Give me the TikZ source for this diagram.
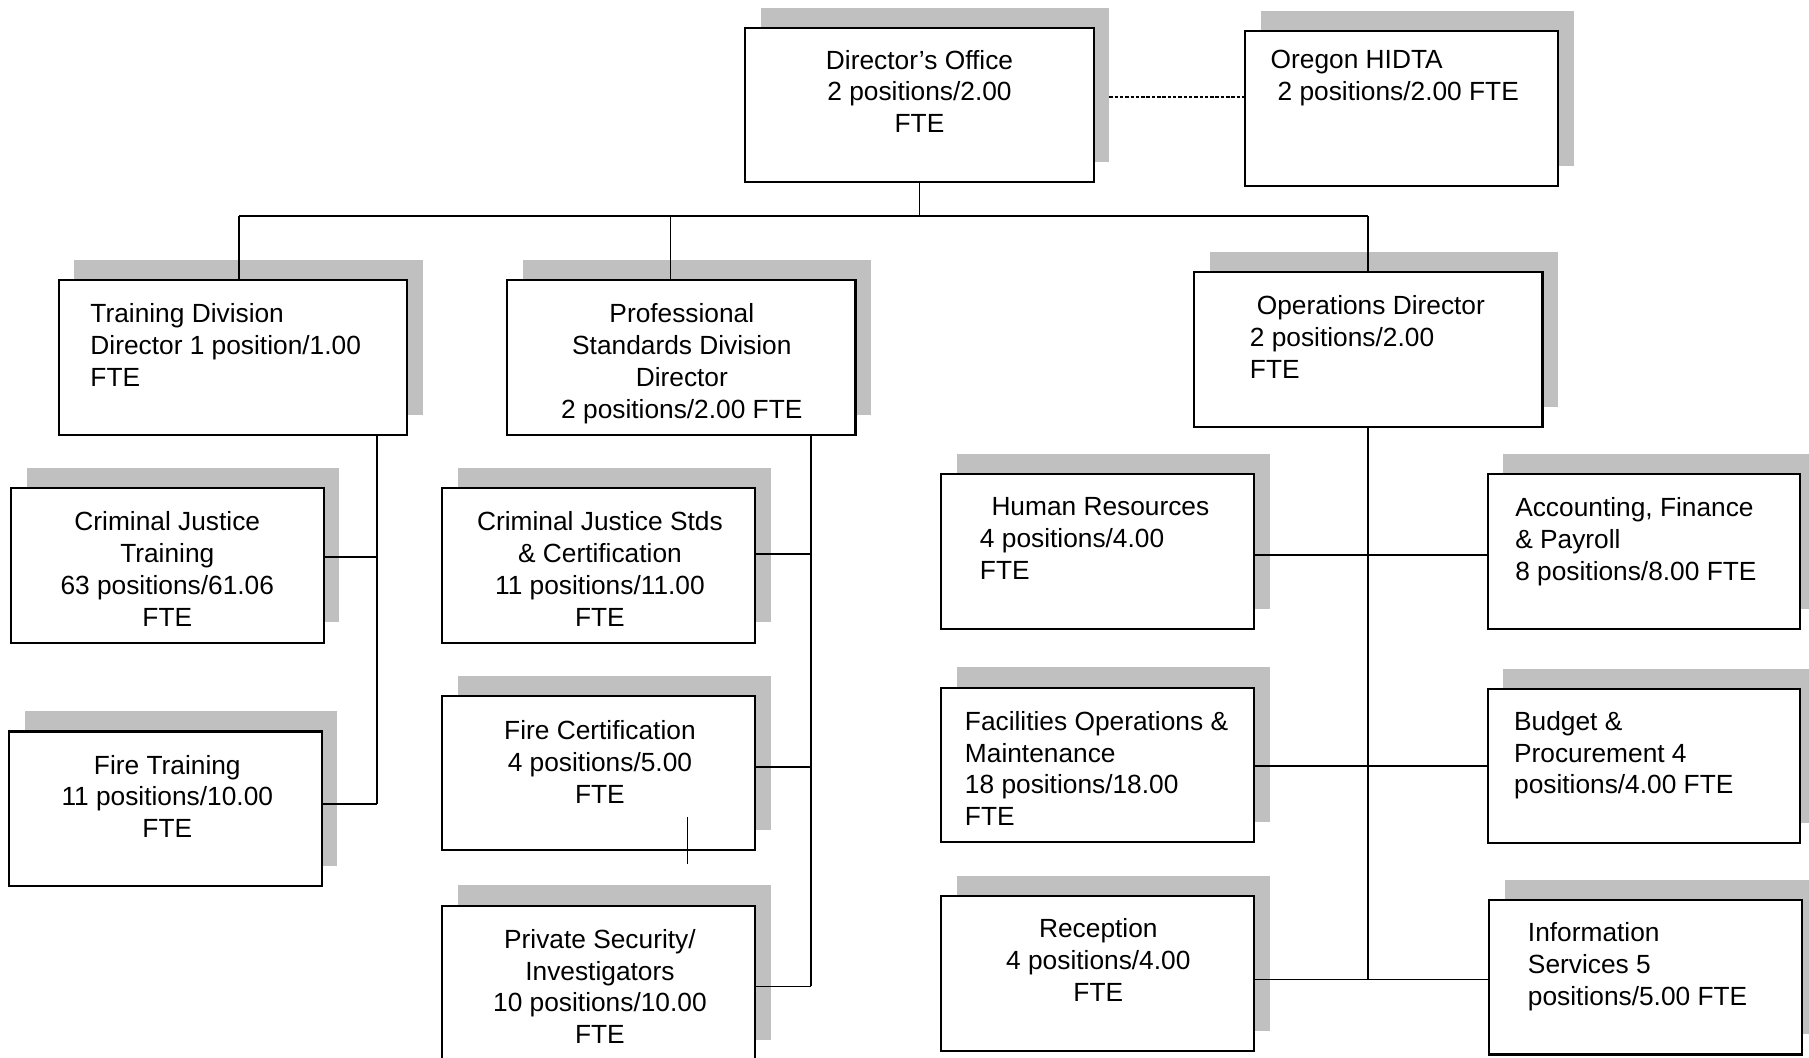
\documentclass[tikz,border=0pt]{standalone}
\usepackage{fontspec}
\setmainfont{Liberation Sans}
\usetikzlibrary{shadows}
\definecolor{shadowgray}{RGB}{192,192,192}
\begin{document}
\begin{tikzpicture}[x=0.5pt,y=-0.5pt,
  box/.style={draw, line width=0.9pt, fill=white, minimum height=67pt, inner sep=0pt, outer sep=0pt,
    drop shadow={shadow xshift=6.75pt, shadow yshift=8.75pt, fill=shadowgray, opacity=1}},
  widebox/.style={box, minimum width=151pt},
  narrowbox/.style={box, minimum width=135.5pt},
  ctext/.style={inner sep=0pt, anchor=north, align=center, font=\fontsize{11.4}{13.8}\selectfont},
  ltext/.style={inner sep=0pt, anchor=north west, align=left, font=\fontsize{11.4}{13.8}\selectfont},
  conn/.style={line width=0.7pt},
  dashconn/.style={line width=0.6pt, dash pattern=on 1.5pt off 0.8pt},
]
\useasboundingbox (0,0) rectangle (1568,917);
\fill[white] (0,0) rectangle (1568,917);

% boxes
\node[widebox] (dir) at (797,91) {};
\node[narrowbox] (hidta) at (1215,94) {};
\node[widebox] (train) at (202,310) {};
\node[widebox] (ps) at (590.5,310) {};
\node[widebox] (ops) at (1186,303) {};
\node[narrowbox] (cjt) at (145,490) {};
\node[narrowbox] (ft) at (143.5,701) {};
\node[narrowbox] (cjs) at (519,490) {};
\node[narrowbox] (fc) at (519,670) {};
\node[narrowbox] (psi) at (519,852) {};
\node[narrowbox] (hr) at (951.5,478) {};
\node[narrowbox] (afp) at (1425,478) {};
\node[narrowbox] (fom) at (951.5,663) {};
\node[narrowbox] (bp) at (1425,664) {};
\node[narrowbox] (rec) at (951.5,844) {};
\node[narrowbox] (is) at (1426.5,847) {};

% connectors
\coordinate (busL) at (207,187);
\coordinate (busP) at (581,187);
\coordinate (busR) at (1186,187);
\draw[conn] (dir.south) -- (dir.south |- busL);
\draw[conn] (busL) -- (busR);
\draw[conn] (busL) -- (busL |- train.north);
\draw[conn] (busP) -- (busP |- ps.north);
\draw[conn] (busR) -- (ops.north);
\draw[dashconn] ([xshift=6.75pt]dir.east |- 0,84) -- (hidta.west |- 0,84);

% training branch
\coordinate (tv) at (327,697);
\draw[conn] (tv |- train.south) -- (tv);
\draw[conn] (cjt.east |- 0,483) -- (tv |- 0,483);
\draw[conn] (ft.east |- tv) -- (tv);

% professional standards branch
\coordinate (pv) at (703,855);
\draw[conn] (pv |- ps.south) -- (pv);
\draw[conn] (cjs.east |- 0,480) -- (pv |- 0,480);
\draw[conn] (fc.east |- 0,665) -- (pv |- 0,665);
\draw[conn] (psi.east |- pv) -- (pv);
\coordinate (strayA) at (596,708);
\coordinate (strayB) at (596,749);
\draw[conn] (strayA) -- (strayB);

% operations branch
\coordinate (ov) at (1186,849);
\draw[conn] (ops.south) -- (ov);
\draw[conn] (hr.east |- 0,481) -- (afp.west |- 0,481);
\draw[conn] (fom.east |- 0,664) -- (bp.west |- 0,664);
\draw[conn] (rec.east |- ov) -- (is.west |- ov);

% texts
\node[ctext] (dirT) at (797,43) {Director’s Office\\2 positions/2.00\\FTE};
\node[ltext] (hidtaT) at (1101,43) {Oregon HIDTA\\\hspace*{3pt}2 positions/2.00 FTE};
\node[ltext] (trainT) at (78,263) {Training Division\\Director 1 position/1.00\\FTE};
\node[ctext] (psT) at (591,263) {Professional\\Standards Division\\Director\\2 positions/2.00 FTE};
\node[ltext] (opsT) at (1083,256) {\hspace*{3pt}Operations Director\\2 positions/2.00\\FTE};
\node[ctext] (cjtT) at (145,443) {Criminal Justice\\Training\\63 positions/61.06\\FTE};
\node[ctext] (ftT) at (145,654) {Fire Training\\11 positions/10.00\\FTE};
\node[ctext] (cjsT) at (520,443) {Criminal Justice Stds\\\& Certification\\11 positions/11.00\\FTE};
\node[ctext] (fcT) at (520,624) {Fire Certification\\4 positions/5.00\\FTE};
\node[ctext] (psiT) at (520,805) {Private Security/\\Investigators\\10 positions/10.00\\FTE};
\node[ltext] (hrT) at (849,431) {\hspace*{5pt}Human Resources\\4 positions/4.00\\FTE};
\node[ltext] (afpT) at (1313,431) {Accounting, Finance\\\& Payroll\\8 positions/8.00 FTE};
\node[ltext] (fomT) at (836,616) {Facilities Operations \&\\Maintenance\\18 positions/18.00\\FTE};
\node[ltext] (bpT) at (1312,616) {Budget \&\\Procurement 4\\positions/4.00 FTE};
\node[ctext] (recT) at (952,796) {Reception\\4 positions/4.00\\FTE};
\node[ltext] (isT) at (1324,799) {Information\\Services 5\\positions/5.00 FTE};
\end{tikzpicture}
\end{document}
